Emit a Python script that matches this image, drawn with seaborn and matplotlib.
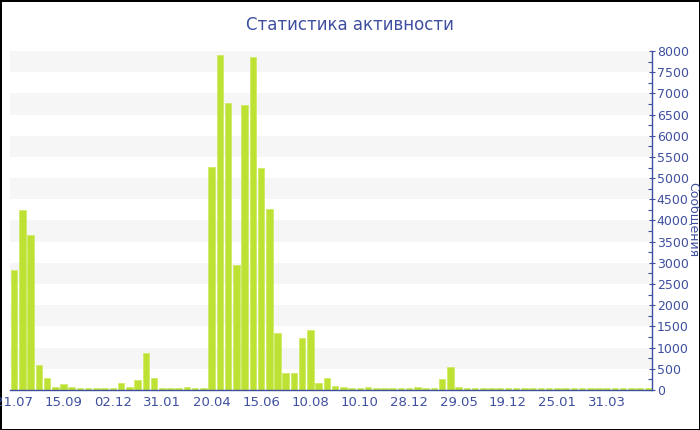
import matplotlib
matplotlib.use("Agg")
import matplotlib.pyplot as plt
from matplotlib.ticker import MultipleLocator
import seaborn as sns
import pandas as pd

# ---------------------------------------------------
# weekly message counts, one bar per week (78 weeks)
weeks = list(range(78))
messages = [
    2830, 4250, 3660, 590, 290, 70, 140, 60, 50, 50,
    50, 50, 55, 170, 60, 240, 870, 280, 55, 45,
    45, 60, 50, 45, 5260, 7900, 6770, 2950, 6730, 7860,
    5240, 4270, 1340, 400, 390, 1230, 1420, 170, 290, 100,
    60, 55, 50, 60, 50, 50, 50, 50, 55, 80,
    50, 55, 260, 550, 70, 55, 50, 50, 50, 45,
    45, 45, 45, 45, 45, 45, 45, 45, 45, 45,
    45, 45, 45, 45, 45, 45, 45, 45,
]
tick_labels = ["21.07", "15.09", "02.12", "31.01", "20.04", "15.06", "10.08",
               "10.10", "28.12", "29.05", "19.12", "25.01", "31.03"]
tick_step = 6

title = "Статистика активности"
ylabel = "Сообщения"

# ---------------------------------------------------
blue = "#3f4f9f"
bar_green = "#bde233"

sns.set_style("white")
plt.rcParams['font.family'] = ['DejaVu Sans']

df = pd.DataFrame({"week": weeks, "messages": messages})

fig = plt.figure(figsize=(7, 4.3), dpi=100)
fig.patch.set_edgecolor("black")
fig.patch.set_linewidth(2)
ax = fig.add_axes([10 / 700, 1 - 390 / 430, 642 / 700, 339 / 430])

# alternating background bands
for lo in range(500, 8000, 1000):
    ax.axhspan(lo, lo + 500, color="#f6f6f6", zorder=0, lw=0)

sns.barplot(data=df, x="week", y="messages", color=bar_green, width=0.8,
            edgecolor="#cdea5c", linewidth=0.5, saturation=1, ax=ax, zorder=2)

ax.set_xlim(-0.5, len(weeks) - 0.5)
ax.set_ylim(0, 8000)

ax.set_xticks(weeks[::tick_step])
ax.set_xticklabels(tick_labels)
ax.set_xlabel("")

ax.yaxis.tick_right()
ax.yaxis.set_major_locator(MultipleLocator(500))
ax.yaxis.set_minor_locator(MultipleLocator(250))
ax.set_ylabel("")

for side in ["top", "left"]:
    ax.spines[side].set_visible(False)
for side in ["bottom", "right"]:
    ax.spines[side].set_color(blue)
    ax.spines[side].set_linewidth(1)

ax.tick_params(axis="x", which="major", colors=blue, labelsize=9.5,
               direction="inout", length=5, width=0.8, pad=2)
ax.tick_params(axis="y", which="major", colors=blue, labelsize=9,
               direction="inout", length=5, width=0.8, pad=1)
ax.tick_params(axis="y", which="minor", colors=blue, direction="in",
               length=3, width=0.8, left=False, right=True)

fig.text(0.5, 1 - 25 / 430, title, ha="center", va="center",
         color=blue, fontsize=12)
fig.text(1 - 7 / 700, 1 - 220 / 430, ylabel, ha="center", va="center",
         rotation=-90, color=blue, fontsize=9)

fig.savefig("out.png", dpi=100, edgecolor=fig.get_edgecolor())
